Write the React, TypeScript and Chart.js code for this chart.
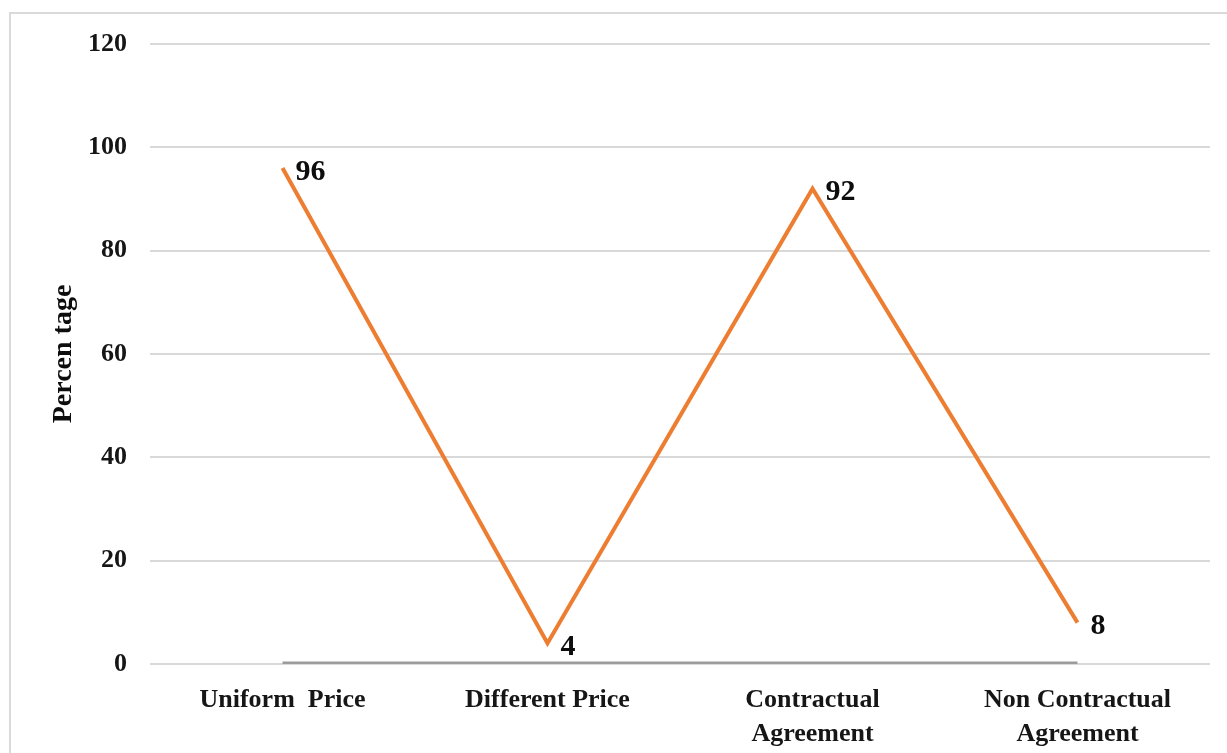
import React, { useEffect, useRef } from "react";
import { Chart, registerables } from "chart.js";

Chart.register(...registerables);

const categories: (string | string[])[] = [
  "Uniform  Price",
  "Different Price",
  ["Contractual", "Agreement"],
  ["Non Contractual", "Agreement"],
];
const percentages: number[] = [96, 4, 92, 8];
const baseline: number[] = [0, 0, 0, 0];
const yTicks: number[] = [0, 20, 40, 60, 80, 100, 120];

const SERIF = "'Liberation Serif', 'Times New Roman', serif";

// White page with a light frame along the top and left edges
const framePlugin = {
  id: "frame",
  beforeDraw(chart: Chart) {
    const { ctx, width, height } = chart;
    ctx.save();
    ctx.fillStyle = "#ffffff";
    ctx.fillRect(0, 0, width, height);
    ctx.strokeStyle = "#dadada";
    ctx.lineWidth = 2;
    ctx.beginPath();
    ctx.moveTo(10, height);
    ctx.lineTo(10, 13);
    ctx.lineTo(width, 13);
    ctx.stroke();
    ctx.restore();
  },
};

// Value labels to the right of each point of the first series
const valueLabelPlugin = {
  id: "valueLabels",
  afterDatasetsDraw(chart: Chart) {
    const { ctx } = chart;
    const meta = chart.getDatasetMeta(0);
    const data = chart.data.datasets[0].data as number[];
    ctx.save();
    ctx.font = `bold 30px ${SERIF}`;
    ctx.fillStyle = "#0d0d0d";
    ctx.textAlign = "left";
    ctx.textBaseline = "middle";
    meta.data.forEach((pt: any, i: number) => {
      ctx.fillText(String(data[i]), pt.x + 13, pt.y + 4);
    });
    ctx.restore();
  },
};

export default function App() {
  const canvasRef = useRef<HTMLCanvasElement | null>(null);

  useEffect(() => {
    if (!canvasRef.current) return;
    const chart = new Chart(canvasRef.current, {
      type: "line",
      data: {
        labels: categories,
        datasets: [
          {
            data: percentages,
            borderColor: "#ED7D31",
            borderWidth: 4,
            pointRadius: 0,
            tension: 0,
            order: 1,
          },
          {
            data: baseline,
            borderColor: "#9c9c9c",
            borderWidth: 5,
            pointRadius: 0,
            order: 2,
          },
        ],
      },
      options: {
        animation: false,
        responsive: true,
        maintainAspectRatio: false,
        layout: { padding: { top: 44, right: 17, bottom: 0, left: 0 } },
        plugins: {
          legend: { display: false },
          tooltip: { enabled: false },
        },
        scales: {
          x: {
            offset: true,
            grid: { display: false, drawTicks: false },
            border: { display: false },
            ticks: {
              color: "#161616",
              padding: 20,
              maxRotation: 0,
              autoSkip: false,
              font: { family: SERIF, size: 26, weight: "bold", lineHeight: 1.28 },
            },
            afterFit(scale: any) {
              scale.height = 89;
            },
          },
          y: {
            min: 0,
            max: 120,
            afterBuildTicks(scale: any) {
              scale.ticks = yTicks.map((v) => ({ value: v }));
            },
            grid: { color: "#d9d9d9", lineWidth: 2, drawTicks: false },
            border: { display: false },
            ticks: {
              color: "#161616",
              padding: 23,
              font: { family: SERIF, size: 26, weight: "bold" },
            },
            title: {
              display: true,
              text: "Percen tage",
              color: "#0d0d0d",
              padding: { top: 47, bottom: 0 },
              font: { family: SERIF, size: 28, weight: "bold" },
            },
            afterFit(scale: any) {
              scale.width = 150;
            },
          },
        },
      },
      plugins: [framePlugin, valueLabelPlugin],
    });
    return () => chart.destroy();
  }, []);

  return (
    <div style={{ position: "fixed", left: 0, top: 0, width: 1227, height: 753, background: "#fff" }}>
      <canvas ref={canvasRef} />
    </div>
  );
}
